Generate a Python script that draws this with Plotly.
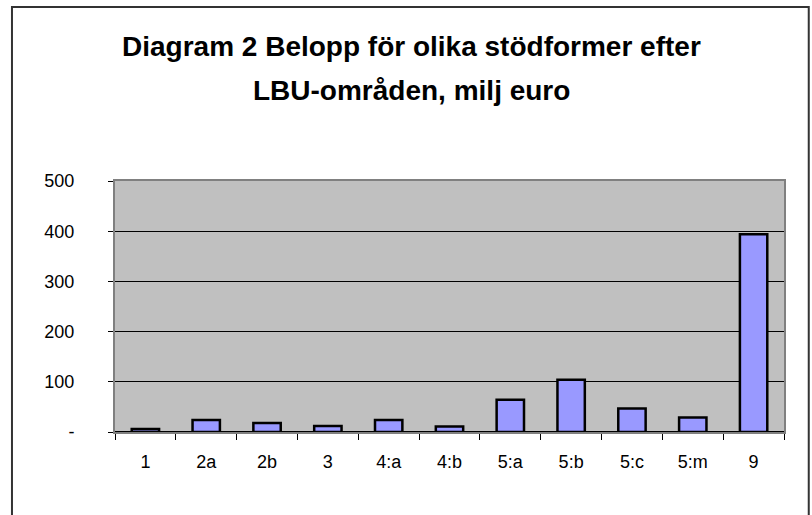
import plotly.graph_objects as go

omraden = ["1", "2a", "2b", "3", "4:a", "4:b", "5:a", "5:b", "5:c", "5:m", "9"]
belopp = [6, 24, 18, 12, 24, 11, 64, 104, 47, 29, 394]
y_ticks = [0, 100, 200, 300, 400, 500]
y_labels = ["-", "100", "200", "300", "400", "500"]

font = "Liberation Sans, Arial, sans-serif"

fig = go.Figure(go.Bar(
    x=omraden, y=belopp,
    marker=dict(color="#9999FF", line=dict(color="black", width=2.5)),
))

fig.update_layout(
    width=812, height=515,
    margin=dict(l=115, r=28, t=181, b=83),
    paper_bgcolor="white", plot_bgcolor="#C0C0C0",
    font=dict(family=font, size=18, color="black"),
    bargap=0.55, showlegend=False,
)
fig.update_xaxes(
    type="category", tickson="boundaries", ticks="outside", ticklen=6,
    tickcolor="black", showline=True, linecolor="#808080", linewidth=2,
    mirror=True, showgrid=False, ticklabelstandoff=12,
)
fig.update_yaxes(
    range=[0, 500], tickvals=y_ticks, ticktext=y_labels, ticks="outside",
    ticklen=5, tickcolor="black", showgrid=True, gridcolor="black", gridwidth=1,
    showline=True, linecolor="#808080", linewidth=2, mirror=True,
    zeroline=True, zerolinecolor="black", zerolinewidth=1.5,
    ticklabelstandoff=30,
)

title_lines = ["Diagram 2 Belopp för olika stödformer efter", "LBU-områden, milj euro"]
for txt, yp in zip(title_lines, [1.534, 1.359]):
    fig.add_annotation(
        text=f"<b>{txt}</b>", xref="paper", yref="paper", x=0.443, y=yp,
        xanchor="center", yanchor="middle", showarrow=False,
        font=dict(family=font, size=28, color="black"),
    )

fig.add_shape(
    type="rect", xref="paper", yref="paper",
    x0=-0.154, x1=1.037, y0=-0.4, y1=1.693,
    line=dict(color="#333333", width=2), layer="below",
)

# page has a default 8px body margin; drop it so the figure sits at 0,0
fig.write_html("out.html", config={"displayModeBar": False},
               post_script="document.body.style.margin='0';")
